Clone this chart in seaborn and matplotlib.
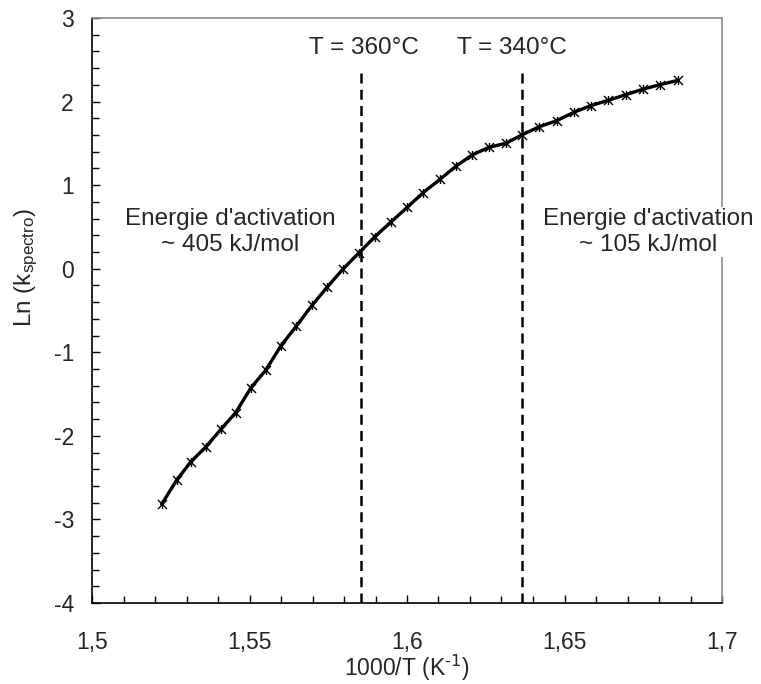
import matplotlib
matplotlib.use("Agg")
import matplotlib.pyplot as plt
import seaborn as sns
import numpy as np
from matplotlib.path import Path
from matplotlib.ticker import MultipleLocator, FuncFormatter

# ---- data ----
inv_T = [1.5221, 1.5269, 1.5314, 1.5362, 1.5410, 1.5456, 1.5504, 1.5552, 1.5600,
         1.5648, 1.5698, 1.5746, 1.5797, 1.5848, 1.5898, 1.5949, 1.6001, 1.6051,
         1.6105, 1.6156, 1.6207, 1.6260, 1.6314, 1.6366, 1.6420, 1.6475, 1.6530,
         1.6583, 1.6639, 1.6694, 1.6748, 1.6803, 1.6861]
ln_k = [-2.819, -2.528, -2.309, -2.130, -1.918, -1.723, -1.427, -1.212, -0.921,
        -0.690, -0.440, -0.222, -0.003, 0.192, 0.383, 0.559, 0.735, 0.910,
        1.070, 1.229, 1.361, 1.453, 1.501, 1.604, 1.699, 1.771, 1.872,
        1.951, 2.015, 2.082, 2.147, 2.202, 2.255]
vlines_x = [1.5854, 1.6366]
vline_labels = ["T = 360°C", "T = 340°C"]
ann_texts = ["Energie d'activation\n~ 405 kJ/mol", "Energie d'activation\n~ 105 kJ/mol"]

sns.set_theme(style="white")
plt.rcParams['font.family'] = ['Liberation Sans', 'DejaVu Sans']
plt.rcParams['mathtext.default'] = 'regular'
plt.rcParams['axes.unicode_minus'] = False

# Excel-like "star" marker: an x with a vertical bar
star = Path([(-1, -1), (1, 1), (-1, 1), (1, -1), (0, -1), (0, 1)],
            [Path.MOVETO, Path.LINETO, Path.MOVETO, Path.LINETO, Path.MOVETO, Path.LINETO])

fig = plt.figure(figsize=(7.61, 6.84), dpi=100)
ax = fig.add_axes([92/761, 1-603/684, (722-92)/761, (603-18)/684])

# dashed vertical lines
for xv in vlines_x:
    ax.plot([xv, xv], [-4, 2.4], color='black', lw=1.8, ls=(0, (4, 2.5)), zorder=2)

sns.lineplot(x=inv_T, y=ln_k, ax=ax, color='black', lw=2.4,
             marker=star, markersize=6.5, markeredgewidth=1.0,
             markeredgecolor='black', markerfacecolor='none', zorder=3)

ax.set_xlim(1.5, 1.7)
ax.set_ylim(-4, 3)
ax.xaxis.set_major_locator(MultipleLocator(0.05))
ax.xaxis.set_minor_locator(MultipleLocator(0.01))
ax.yaxis.set_major_locator(MultipleLocator(1))
ax.yaxis.set_minor_locator(MultipleLocator(0.2))
ax.xaxis.set_major_formatter(FuncFormatter(lambda v, p: f"{v:g}".replace('.', ',')))
ax.yaxis.set_major_formatter(FuncFormatter(lambda v, p: f"{v:g}"))

ax.tick_params(axis='both', which='both', direction='in', color='black',
               width=1.0, labelsize=16.5, left=True, bottom=True)
ax.tick_params(axis='both', which='major', length=6)
ax.tick_params(axis='both', which='minor', length=5)
ax.tick_params(axis='x', which='major', pad=20)
ax.tick_params(axis='y', which='major', pad=13)

for s in ['left', 'bottom']:
    ax.spines[s].set_color('black')
    ax.spines[s].set_linewidth(1.2)
for s in ['top', 'right']:
    ax.spines[s].set_color('#8c8c8c')
    ax.spines[s].set_linewidth(1.2)

ax.set_xlabel(r"1000/T (K$^{\text{-1}}$)", fontsize=16.5, va='center')
ax.xaxis.set_label_coords(0.5, (603 - 668) / 585)
ax.set_ylabel(r"Ln (k$_{spectro}$)", fontsize=17.5, va='center')
ax.yaxis.set_label_coords(-(92 - 26) / 630, (603 - 268) / 585)

# T labels
label_x = [1.5863, 1.6333]
for xv, t in zip(label_x, vline_labels):
    ax.text(xv, 2.64, t, ha='center', va='center', fontsize=17.5, zorder=5)

ax.text(1.5438, 0.44, ann_texts[0], ha='center', va='center', fontsize=17.5,
        linespacing=1.2, zorder=5,
        bbox=dict(facecolor='white', edgecolor='none', pad=1))
ax.text(1.6765, 0.44, ann_texts[1], ha='center', va='center', fontsize=17.5,
        linespacing=1.2, zorder=5, clip_on=False,
        bbox=dict(facecolor='white', edgecolor='none', pad=1))

fig.savefig("out.png", dpi=100)
